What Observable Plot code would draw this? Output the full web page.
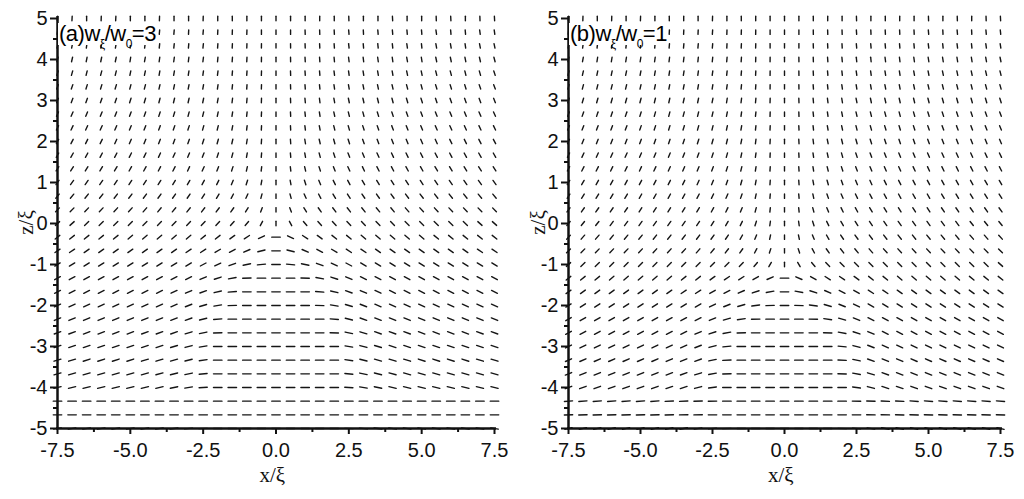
<!DOCTYPE html>
<html><head><meta charset="utf-8">
<script src="https://cdn.jsdelivr.net/npm/d3@7"></script>
<script src="https://cdn.jsdelivr.net/npm/@observablehq/plot@0.6"></script>
<style>
body{margin:0;background:#fff;}
#wrap{position:relative;width:1024px;height:499px;overflow:hidden;}
.panel{position:absolute;top:0;width:512px;height:499px;}
.lab{position:absolute;background:#fff;font-family:"Liberation Sans",Arial,sans-serif;font-size:22px;color:#000;line-height:1;padding:0 1px;white-space:nowrap;letter-spacing:-0.5px;}
.lab sub{font-size:12px;vertical-align:-7px;line-height:0;}
.axl{position:absolute;font-family:"Liberation Serif","Times New Roman",serif;font-size:21px;line-height:1;color:#111;white-space:nowrap;}
</style></head><body><div id="wrap"></div>
<script>
const xs = [-7.5,-7,-6.5,-6,-5.5,-5,-4.5,-4,-3.5,-3,-2.5,-2,-1.5,-1,-0.5,0,0.5,1,1.5,2,2.5,3,3.5,4,4.5,5,5.5,6,6.5,7,7.5];
const zs = [5,4.667,4.333,4,3.667,3.333,3,2.667,2.333,2,1.667,1.333,1,0.667,0.333,0,-0.333,-0.667,-1,-1.333,-1.667,-2,-2.333,-2.667,-3,-3.333,-3.667,-4,-4.333,-4.667,-5];

// director angle (degrees, clockwise from vertical) for panel (a) w_xi/w_0 = 3
const anglesA = [
[3,3,0,2,3,0,0,2,0,0,2,0,0,0,0,0,0,0,0,0,-2,0,0,-3,0,0,-2,-3,0,-2,-3],
[8,8,5,5,8,5,5,5,5,3,5,3,2,2,0,0,0,-2,-2,-3,-5,-3,-5,-5,-5,-5,-8,-5,-5,-8,-8],
[12,11,8,10,10,6,8,6,6,5,6,4,3,2,1,0,-1,-2,-3,-4,-6,-5,-6,-6,-8,-6,-10,-10,-8,-11,-12],
[15,13,11,12,12,9,10,8,8,7,7,5,4,3,1,0,-1,-3,-4,-5,-7,-7,-8,-8,-10,-9,-12,-12,-11,-13,-15],
[18,16,14,15,14,12,12,10,10,9,8,7,5,4,2,0,-2,-4,-5,-7,-8,-9,-10,-10,-12,-12,-14,-15,-14,-16,-18],
[20,19,17,17,17,15,15,13,12,11,10,8,6,4,2,0,-2,-4,-6,-8,-10,-11,-12,-13,-15,-15,-17,-17,-17,-19,-20],
[22,21,20,20,19,18,17,15,14,13,12,10,7,5,2,0,-2,-5,-7,-10,-12,-13,-14,-15,-17,-18,-19,-20,-20,-21,-22],
[24,23,22,22,21,20,19,18,17,15,14,12,9,6,3,0,-3,-6,-9,-12,-14,-15,-17,-18,-19,-20,-21,-22,-22,-23,-24],
[26,25,24,24,23,22,21,20,19,18,16,14,11,7,3,0,-3,-7,-11,-14,-16,-18,-19,-20,-21,-22,-23,-24,-24,-25,-26],
[28,27,26,26,25,24,23,22,21,20,18,16,13,9,4,0,-4,-9,-13,-16,-18,-20,-21,-22,-23,-24,-25,-26,-26,-27,-28],
[30,30,29,28,28,27,26,25,24,22,21,18,15,10,5,0,-5,-10,-15,-18,-21,-22,-24,-25,-26,-27,-28,-28,-29,-30,-30],
[33,33,32,31,31,30,29,28,27,25,24,21,18,13,7,0,-7,-13,-18,-21,-24,-25,-27,-28,-29,-30,-31,-31,-32,-33,-33],
[36,36,35,35,34,33,33,32,31,30,28,26,23,18,10,0,-10,-18,-23,-26,-28,-30,-31,-32,-33,-33,-34,-35,-35,-36,-36],
[40,40,39,39,38,38,37,36,35,34,33,31,28,24,15,0,-15,-24,-28,-31,-33,-34,-35,-36,-37,-38,-38,-39,-39,-40,-40],
[44,44,43,43,42,42,41,40,40,39,38,37,35,32,20,0,-20,-32,-35,-37,-38,-39,-40,-40,-41,-42,-42,-43,-43,-44,-44],
[48,48,47,47,47,46,46,45,45,44,44,43,42,40,28,0,-28,-40,-42,-43,-44,-44,-45,-45,-46,-46,-47,-47,-47,-48,-48],
[52,52,51,51,51,50,50,50,50,50,51,52,54,57,65,90,-65,-57,-54,-52,-51,-50,-50,-50,-50,-50,-51,-51,-51,-52,-52],
[56,56,55,55,55,55,55,55,55,56,57,59,62,66,76,90,-76,-66,-62,-59,-57,-56,-55,-55,-55,-55,-55,-55,-55,-56,-56],
[59,59,58,58,58,58,58,58,59,60,62,65,70,78,85,90,-85,-78,-70,-65,-62,-60,-59,-58,-58,-58,-58,-58,-58,-59,-59],
[62,62,61,61,61,61,61,62,63,64,67,72,80,88,90,90,-90,-88,-80,-72,-67,-64,-63,-62,-61,-61,-61,-61,-61,-62,-62],
[64,64,63,63,63,63,64,64,65,67,70,77,86,90,90,90,-90,-90,-86,-77,-70,-67,-65,-64,-64,-63,-63,-63,-63,-64,-64],
[66,66,65,65,65,65,66,66,67,69,73,80,88,90,90,90,-90,-90,-88,-80,-73,-69,-67,-66,-66,-65,-65,-65,-65,-66,-66],
[68,68,67,67,67,67,68,68,69,71,76,86,90,90,90,90,-90,-90,-90,-86,-76,-71,-69,-68,-68,-67,-67,-67,-67,-68,-68],
[70,70,69,69,69,69,70,70,71,73,78,88,90,90,90,90,-90,-90,-90,-88,-78,-73,-71,-70,-70,-69,-69,-69,-69,-70,-70],
[72,71,71,71,71,71,71,72,73,75,80,89,90,90,90,90,-90,-90,-90,-89,-80,-75,-73,-72,-71,-71,-71,-71,-71,-71,-72],
[73,73,72,72,72,72,73,73,74,76,82,90,90,90,90,90,-90,-90,-90,-90,-82,-76,-74,-73,-73,-72,-72,-72,-72,-73,-73],
[74,74,74,74,74,74,74,75,76,78,84,90,90,90,90,90,-90,-90,-90,-90,-84,-78,-76,-75,-74,-74,-74,-74,-74,-74,-74],
[76,76,76,76,76,76,76,77,78,80,86,90,90,90,90,90,-90,-90,-90,-90,-86,-80,-78,-77,-76,-76,-76,-76,-76,-76,-76],
[90,90,90,90,90,90,90,90,90,90,90,90,90,90,90,90,90,90,90,90,90,90,90,90,90,90,90,90,90,90,90],
[90,90,90,90,90,90,90,90,90,90,90,90,90,90,90,90,90,90,90,90,90,90,90,90,90,90,90,90,90,90,90],
[80,80,80,80,80,80,80,80,82,84,88,90,90,90,90,90,-90,-90,-90,-90,-88,-84,-82,-80,-80,-80,-80,-80,-80,-80,-80]
];

// director angle for panel (b) w_xi/w_0 = 1
const anglesB = [
[3,2,0,2,0,2,0,0,0,0,2,0,0,0,0,0,0,0,0,0,-2,0,0,0,0,-2,0,-2,0,-2,-3],
[6,5,3,5,3,5,3,3,3,3,4,2,2,1,0,0,0,-1,-2,-2,-4,-3,-3,-3,-3,-5,-3,-5,-3,-5,-6],
[9,8,6,7,6,7,5,5,5,5,5,3,3,2,0,0,0,-2,-3,-3,-5,-5,-5,-5,-5,-7,-6,-7,-6,-8,-9],
[12,10,9,9,9,9,8,7,7,6,6,5,4,2,1,0,-1,-2,-4,-5,-6,-6,-7,-7,-8,-9,-9,-9,-9,-10,-12],
[14,13,12,12,12,11,10,9,9,8,8,6,5,3,1,0,-1,-3,-5,-6,-8,-8,-9,-9,-10,-11,-12,-12,-12,-13,-14],
[16,15,14,14,14,13,12,11,11,10,9,8,6,4,1,0,-1,-4,-6,-8,-9,-10,-11,-11,-12,-13,-14,-14,-14,-15,-16],
[18,17,16,16,16,15,14,13,13,12,11,9,7,5,2,0,-2,-5,-7,-9,-11,-12,-13,-13,-14,-15,-16,-16,-16,-17,-18],
[20,19,18,18,18,17,16,15,15,14,13,11,8,6,2,0,-2,-6,-8,-11,-13,-14,-15,-15,-16,-17,-18,-18,-18,-19,-20],
[22,21,20,20,20,19,18,17,17,16,14,12,10,6,3,0,-3,-6,-10,-12,-14,-16,-17,-17,-18,-19,-20,-20,-20,-21,-22],
[24,23,22,22,22,21,20,19,19,18,16,14,11,7,3,0,-3,-7,-11,-14,-16,-18,-19,-19,-20,-21,-22,-22,-22,-23,-24],
[26,25,24,24,24,23,22,22,21,20,18,16,12,8,3,0,-3,-8,-12,-16,-18,-20,-21,-22,-22,-23,-24,-24,-24,-25,-26],
[28,27,27,26,26,25,25,24,23,22,20,18,14,9,4,0,-4,-9,-14,-18,-20,-22,-23,-24,-25,-25,-26,-26,-27,-27,-28],
[30,30,29,29,28,28,27,27,26,25,23,20,16,10,4,0,-4,-10,-16,-20,-23,-25,-26,-27,-27,-28,-28,-29,-29,-30,-30],
[33,32,32,31,31,30,30,29,29,28,26,23,19,12,5,0,-5,-12,-19,-23,-26,-28,-29,-29,-30,-30,-31,-31,-32,-32,-33],
[36,35,35,34,34,33,33,32,32,31,29,26,22,15,6,0,-6,-15,-22,-26,-29,-31,-32,-32,-33,-33,-34,-34,-35,-35,-36],
[39,38,38,37,37,36,36,36,35,34,32,30,26,18,8,0,-8,-18,-26,-30,-32,-34,-35,-36,-36,-36,-37,-37,-38,-38,-39],
[42,41,41,40,40,40,39,39,38,37,36,34,30,22,12,0,-12,-22,-30,-34,-36,-37,-38,-39,-39,-40,-40,-40,-41,-41,-42],
[45,44,44,43,43,43,42,42,42,41,40,38,35,28,18,0,-18,-28,-35,-38,-40,-41,-42,-42,-42,-43,-43,-43,-44,-44,-45],
[48,47,47,46,46,46,46,46,46,46,46,46,45,40,30,0,-30,-40,-45,-46,-46,-46,-46,-46,-46,-46,-46,-46,-47,-47,-48],
[52,51,51,50,50,50,50,50,51,52,54,56,58,60,66,90,-66,-60,-58,-56,-54,-52,-51,-50,-50,-50,-50,-50,-51,-51,-52],
[55,54,54,54,54,54,54,55,56,58,60,63,66,72,80,90,-80,-72,-66,-63,-60,-58,-56,-55,-54,-54,-54,-54,-54,-54,-55],
[58,57,57,57,57,57,57,58,59,61,64,68,74,82,88,90,-88,-82,-74,-68,-64,-61,-59,-58,-57,-57,-57,-57,-57,-57,-58],
[60,60,60,60,60,60,60,61,62,64,68,74,82,89,90,90,-90,-89,-82,-74,-68,-64,-62,-61,-60,-60,-60,-60,-60,-60,-60],
[62,62,62,62,62,62,62,63,64,67,72,80,88,90,90,90,-90,-90,-88,-80,-72,-67,-64,-63,-62,-62,-62,-62,-62,-62,-62],
[64,64,64,64,64,64,64,65,66,69,75,84,90,90,90,90,-90,-90,-90,-84,-75,-69,-66,-65,-64,-64,-64,-64,-64,-64,-64],
[66,66,66,66,66,66,66,67,68,71,78,87,90,90,90,90,-90,-90,-90,-87,-78,-71,-68,-67,-66,-66,-66,-66,-66,-66,-66],
[68,68,68,68,68,68,68,69,70,73,80,88,90,90,90,90,-90,-90,-90,-88,-80,-73,-70,-69,-68,-68,-68,-68,-68,-68,-68],
[70,70,70,70,70,70,70,71,72,75,82,89,90,90,90,90,-90,-90,-90,-89,-82,-75,-72,-71,-70,-70,-70,-70,-70,-70,-70],
[86,86,86,86,86,86,86,87,87,88,89,90,90,90,90,90,-90,-90,-90,-90,-89,-88,-87,-87,-86,-86,-86,-86,-86,-86,-86],
[88,88,88,88,88,88,88,88,89,89,90,90,90,90,90,90,-90,-90,-90,-90,-90,-89,-89,-88,-88,-88,-88,-88,-88,-88,-88],
[76,76,76,76,76,76,76,77,78,80,84,88,90,90,90,90,-90,-90,-90,-88,-84,-80,-78,-77,-76,-76,-76,-76,-76,-76,-76]
];

const xTicks = [-7.5,-5,-2.5,0,2.5,5,7.5];
const xMinor = [-6.25,-3.75,-1.25,1.25,3.75,6.25];
const zTicks = [-5,-4,-3,-2,-1,0,1,2,3,4,5];
const zMinor = [-4.5,-3.5,-2.5,-1.5,-0.5,0.5,1.5,2.5,3.5,4.5];

const panels = [
  {tag: "(a)", ratio: "3", angles: anglesA, left: 0, ml: 57, mr: 18},
  {tag: "(b)", ratio: "1", angles: anglesB, left: 512, ml: 56, mr: 24}
];

const seg = {draw(context, l) { context.moveTo(0, 0); context.lineTo(0, -l); }};
const wrap = document.getElementById("wrap");

for (const p of panels) {
  const data = [];
  zs.forEach((z, j) => xs.forEach((x, i) => data.push({x, z, a: p.angles[j][i]})));
  const chart = Plot.plot({
    width: 512, height: 499,
    marginLeft: p.ml, marginRight: p.mr, marginTop: 18, marginBottom: 71,
    style: {fontFamily: "'Liberation Sans', Arial, sans-serif", fontSize: "20px", color: "#111", background: "transparent", overflow: "visible"},
    x: {domain: [-7.5, 7.5]},
    y: {domain: [-5, 5]},
    length: {type: "pow", exponent: 2, domain: [0, 90], range: [4.5, 8.5]},
    marks: [
      Plot.vector(data, {x: "x", y: "z", rotate: "a", length: d => Math.abs(d.a), anchor: "middle", shape: seg, stroke: "#151515", strokeWidth: 1.4}),
      Plot.axisX({ticks: xTicks, tickSize: 6, tickPadding: 8, tickFormat: d => d.toFixed(1), strokeWidth: 2, label: null}),
      Plot.axisX({ticks: xMinor, tickSize: 4, tickFormat: () => "", strokeWidth: 2, label: null}),
      Plot.axisY({ticks: zTicks, tickSize: 7, tickPadding: 3, tickFormat: d => String(d), strokeWidth: 2, label: null}),
      Plot.axisY({ticks: zMinor, tickSize: 4, tickFormat: () => "", strokeWidth: 2, label: null}),
      Plot.ruleY([-5], {stroke: "#111", strokeWidth: 2.5, insetLeft: -1, insetRight: -2}),
      Plot.ruleX([-7.5], {stroke: "#111", strokeWidth: 2.5, insetTop: -2, insetBottom: -1})
    ]
  });
  const div = document.createElement("div");
  div.className = "panel";
  div.style.left = p.left + "px";
  div.appendChild(chart);
  const lab = document.createElement("div");
  lab.className = "lab";
  lab.style.left = (p.ml + 1) + "px";
  lab.style.top = "23px";
  lab.innerHTML = p.tag + "w<sub>ξ</sub>/w<sub>0</sub>=" + p.ratio;
  div.appendChild(lab);
  const xl = document.createElement("div");
  xl.className = "axl";
  xl.textContent = "x/ξ";
  const cx = p.ml + (512 - p.ml - p.mr) / 2;
  xl.style.left = (cx - 16) + "px";
  xl.style.top = "465px";
  div.appendChild(xl);
  const zl = document.createElement("div");
  zl.className = "axl";
  zl.textContent = "z/ξ";
  zl.style.left = "14px";
  zl.style.top = "212px";
  zl.style.transform = "rotate(-90deg)";
  zl.style.transformOrigin = "center";
  div.appendChild(zl);
  wrap.appendChild(div);
}
</script></body></html>
